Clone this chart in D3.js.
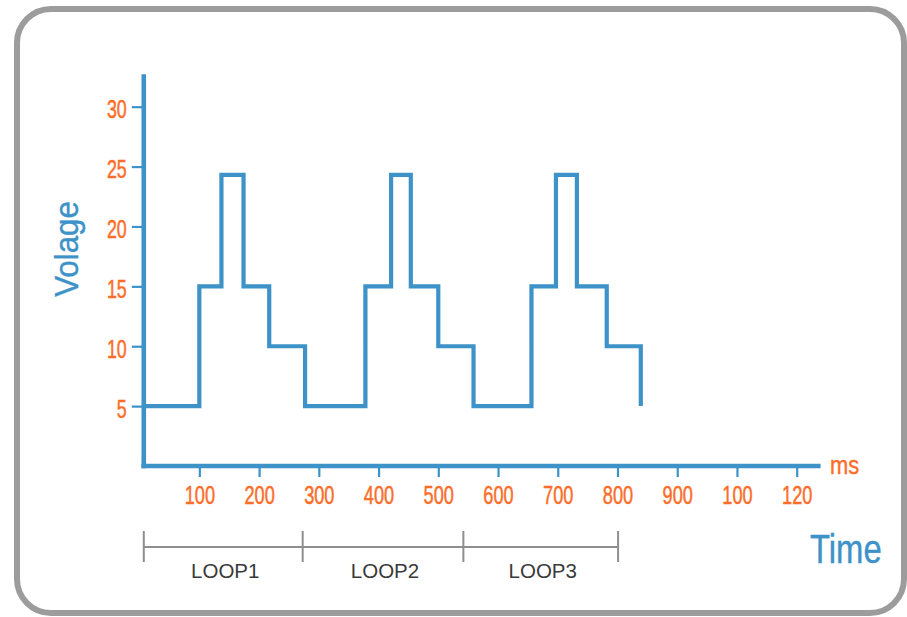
<!DOCTYPE html>
<html>
<head>
<meta charset="utf-8">
<script src="https://cdn.jsdelivr.net/npm/d3@7"></script>
<style>
  html, body { margin: 0; padding: 0; background: #fff; }
  svg { display: block; }
  text { font-family: "Liberation Sans", Arial, Helvetica, sans-serif; }
</style>
</head>
<body>
<svg id="chart" width="907" height="617"></svg>
<script>
// ---- data ----
const waveTimes  = [7, 100, 137, 174, 217, 277, 378, 421, 454, 500, 559, 656, 697, 732, 782, 839];
const waveValues = [5, 15, 24.3, 15, 10, 5, 15, 24.3, 15, 10, 5, 15, 24.3, 15, 10, 5];
const yTicks = [5, 10, 15, 20, 25, 30];
const xTicks = [100, 200, 300, 400, 500, 600, 700, 800, 900, 1000, 1100];
const xTickLabels = ["100", "200", "300", "400", "500", "600", "700", "800", "900", "100", "120"];
const loopNames = ["LOOP1", "LOOP2", "LOOP3"];
const loopBounds = [7, 273, 542, 801];
const xOrigin = 7, xEnd = 1140, yMax = 32.7;

// ---- styles ----
const BLUE = "#3d92c8", ORANGE = "#fb6e2a", GRAY = "#8e8e8e";

const svg = d3.select("#chart");

// frame
svg.append("rect")
  .attr("x", 17).attr("y", 9).attr("width", 887).attr("height", 604)
  .attr("rx", 34).attr("ry", 34)
  .attr("fill", "#fff").attr("stroke", "#9c9c9c").attr("stroke-width", 6);

const x = d3.scaleLinear().domain([0, 1100]).range([139.6, 796.7]);
const y = d3.scaleLinear().domain([0, 30]).range([466, 106.7]);

const x0 = x(xOrigin), y0 = y(0);

// y axis ticks
const yAxis = svg.append("g").attr("transform", `translate(${x0},0)`)
  .call(d3.axisLeft(y).tickValues(yTicks).tickSize(12).tickPadding(5));
yAxis.select(".domain").remove();
yAxis.selectAll(".tick line").attr("stroke", BLUE).attr("stroke-width", 2.2);
yAxis.selectAll(".tick text")
  .attr("fill", ORANGE).attr("font-size", 25.5)
  .attr("stroke", ORANGE).attr("stroke-width", 0.5)
  .attr("x", 0).attr("dy", "0.43em")
  .attr("transform", "translate(-17,0) scale(0.7,1)");

// x axis ticks
const xAxis = svg.append("g").attr("transform", `translate(0,${y0})`)
  .call(d3.axisBottom(x).tickValues(xTicks).tickSize(11).tickPadding(9)
    .tickFormat((d, i) => xTickLabels[i]));
xAxis.select(".domain").remove();
xAxis.selectAll(".tick line").attr("stroke", BLUE).attr("stroke-width", 2.2);
xAxis.selectAll(".tick text")
  .attr("fill", ORANGE).attr("font-size", 26)
  .attr("stroke", ORANGE).attr("stroke-width", 0.5)
  .attr("dy", "0.71em")
  .attr("transform", "scale(0.7,1)");

// axis lines
svg.append("line")
  .attr("x1", x0).attr("x2", x0).attr("y1", y0 + 2.3).attr("y2", y(yMax))
  .attr("stroke", BLUE).attr("stroke-width", 4.6);
svg.append("line")
  .attr("x1", x0 - 2.3).attr("x2", x(xEnd)).attr("y1", y0).attr("y2", y0)
  .attr("stroke", BLUE).attr("stroke-width", 4.6);

// waveform
const pts = waveTimes.map((t, i) => [t, waveValues[i]]);
svg.append("path")
  .attr("d", d3.line().x(d => x(d[0])).y(d => y(d[1])).curve(d3.curveStepAfter)(pts))
  .attr("fill", "none").attr("stroke", BLUE).attr("stroke-width", 4.2)
  .attr("stroke-linejoin", "miter");

// axis labels
svg.append("text")
  .attr("transform", `translate(78,${249}) rotate(-90) scale(0.92,1)`)
  .attr("text-anchor", "middle").attr("fill", BLUE).attr("font-size", 34)
  .attr("stroke", BLUE).attr("stroke-width", 0.4)
  .text("Volage");
svg.append("text")
  .attr("transform", `translate(830,474) scale(0.86,1)`)
  .attr("fill", ORANGE).attr("font-size", 25.5)
  .attr("stroke", ORANGE).attr("stroke-width", 0.4).text("ms");
svg.append("text")
  .attr("transform", `translate(810,563) scale(0.8,1)`)
  .attr("fill", BLUE).attr("font-size", 41)
  .attr("stroke", BLUE).attr("stroke-width", 0.4).text("Time");

// loop brackets
const by = 547;
const br = svg.append("g");
br.append("line")
  .attr("x1", x(loopBounds[0])).attr("x2", x(loopBounds[loopBounds.length - 1]))
  .attr("y1", by).attr("y2", by)
  .attr("stroke", GRAY).attr("stroke-width", 2);
br.selectAll("line.tk").data(loopBounds).join("line").attr("class", "tk")
  .attr("x1", d => x(d)).attr("x2", d => x(d))
  .attr("y1", by - 16).attr("y2", by + 15)
  .attr("stroke", GRAY).attr("stroke-width", 2);
br.selectAll("text").data(loopNames).join("text")
  .attr("x", (d, i) => (x(loopBounds[i]) + x(loopBounds[i + 1])) / 2 + 2)
  .attr("y", 578)
  .attr("text-anchor", "middle").attr("fill", "#3a3a3a").attr("font-size", 20.5)
  .text(d => d);
</script>
</body>
</html>
